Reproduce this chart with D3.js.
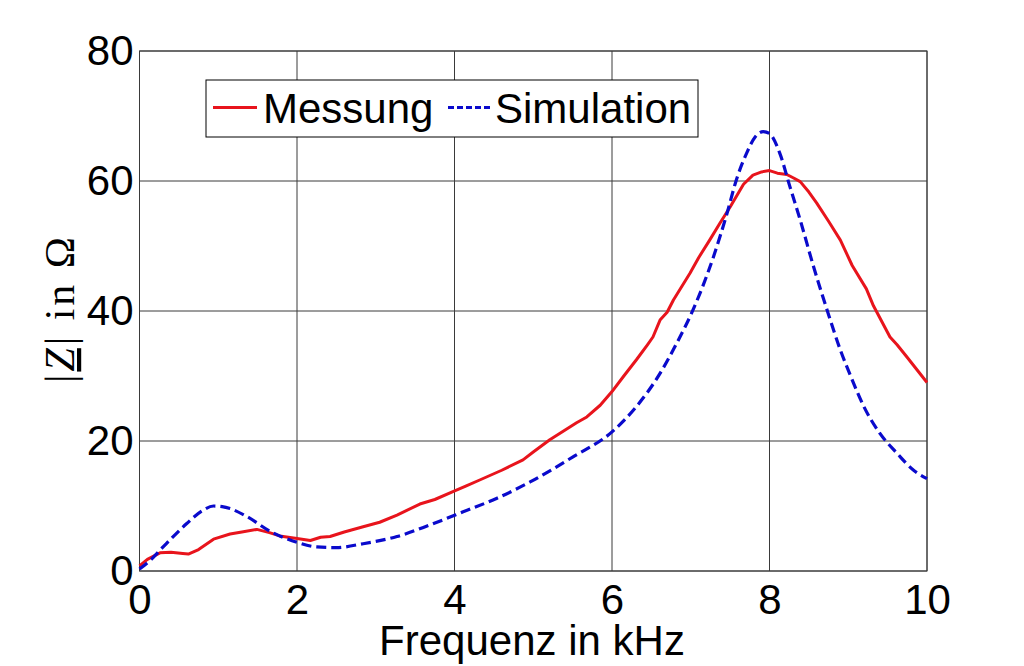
<!DOCTYPE html>
<html>
<head>
<meta charset="utf-8">
<script src="https://cdn.jsdelivr.net/npm/d3@7"></script>
<style>
html,body{margin:0;padding:0;background:#fff;}
svg{display:block;}
</style>
</head>
<body>
<svg id="chart" width="1024" height="666"></svg>
<script>
// ---- data ----
const xTicks = [0, 2, 4, 6, 8, 10];
const yTicks = [0, 20, 40, 60, 80];
const seriesNames = ["Messung", "Simulation"];

const messFreq = [0, 0.1, 0.26, 0.4, 0.55, 0.62, 0.75, 0.94, 1.15, 1.3, 1.49, 1.65, 1.78, 2.0, 2.17, 2.3, 2.42, 2.6, 2.84, 3.05, 3.27, 3.56, 3.75, 3.98, 4.15, 4.32, 4.6, 4.87, 5.0, 5.21, 5.34, 5.55, 5.68, 5.85, 6.0, 6.15, 6.31, 6.45, 6.52, 6.61, 6.7, 6.78, 6.99, 7.1, 7.24, 7.37, 7.5, 7.67, 7.79, 7.9, 8.0, 8.1, 8.22, 8.3, 8.39, 8.5, 8.6, 8.75, 8.9, 9.05, 9.23, 9.32, 9.53, 9.62, 9.74, 9.85, 10.0];
const messVal  = [0.8, 1.8, 2.8, 2.9, 2.7, 2.6, 3.3, 4.9, 5.7, 6.0, 6.4, 5.9, 5.4, 5.0, 4.7, 5.2, 5.3, 6.0, 6.8, 7.5, 8.6, 10.3, 11.0, 12.2, 13.1, 14.0, 15.5, 17.1, 18.3, 20.2, 21.2, 22.8, 23.7, 25.5, 27.6, 30.0, 32.5, 34.8, 36.0, 38.6, 39.8, 41.7, 45.8, 48.2, 50.9, 53.5, 56.0, 59.5, 60.9, 61.4, 61.6, 61.2, 61.0, 60.5, 59.9, 58.3, 56.6, 53.8, 50.9, 47.0, 43.4, 40.8, 36.0, 34.8, 33.0, 31.3, 29.0];

const simFreq = [0, 0.15, 0.3, 0.6, 0.8, 0.94, 1.05, 1.15, 1.36, 1.66, 2.0, 2.25, 2.5, 2.84, 3.27, 3.69, 4.11, 4.54, 4.96, 5.51, 6.0, 6.31, 6.61, 6.82, 7.03, 7.29, 7.46, 7.58, 7.71, 7.82, 7.92, 8.0, 8.13, 8.26, 8.39, 8.56, 8.73, 8.9, 9.03, 9.19, 9.4, 9.62, 9.83, 10.0];
const simVal  = [0.3, 1.8, 3.7, 7.3, 9.3, 10.0, 9.9, 9.6, 8.4, 6.1, 4.4, 3.7, 3.6, 4.2, 5.3, 7.1, 9.1, 11.2, 13.7, 17.6, 21.4, 25.3, 30.4, 35.0, 40.2, 48.4, 55.0, 60.2, 64.3, 66.8, 67.6, 67.3, 64.3, 59.1, 54.0, 46.8, 40.2, 34.0, 30.0, 25.5, 21.2, 18.1, 15.5, 14.2];

// ---- layout ----
const svg = d3.select("#chart");
const pLeft = 139.5, pRight = 927, pTop = 51, pBottom = 571;
const x = d3.scaleLinear().domain([0, 10]).range([pLeft, pRight]);
const y = d3.scaleLinear().domain([0, 80]).range([pBottom, pTop]);
const font = "'Liberation Sans', Arial, sans-serif";

// grid
const g = svg.append("g");
g.selectAll("line.vx").data(xTicks).enter().append("line")
  .attr("x1", d => x(d)).attr("x2", d => x(d))
  .attr("y1", pTop).attr("y2", pBottom)
  .attr("stroke", "#3a3a3a").attr("stroke-width", 1);
g.selectAll("line.hy").data(yTicks).enter().append("line")
  .attr("x1", pLeft).attr("x2", pRight)
  .attr("y1", d => y(d)).attr("y2", d => y(d))
  .attr("stroke", "#3a3a3a").attr("stroke-width", 1);
g.append("rect").attr("x", pLeft).attr("y", pTop)
  .attr("width", pRight - pLeft).attr("height", pBottom - pTop)
  .attr("fill", "none").attr("stroke", "#3a3a3a").attr("stroke-width", 1);

// axes via d3 (tick labels)
const xAxis = d3.axisBottom(x).tickValues(xTicks).tickSize(0).tickPadding(13).tickFormat(d3.format("d"));
const ax = svg.append("g").attr("transform", `translate(0,${pBottom})`).call(xAxis);
ax.select(".domain").remove();
ax.selectAll("text").attr("font-family", font).attr("font-size", 42).attr("fill", "#000");

const yAxis = d3.axisLeft(y).tickValues(yTicks).tickSize(0).tickPadding(6).tickFormat(d3.format("d"));
const ay = svg.append("g").attr("transform", `translate(${pLeft},0)`).call(yAxis);
ay.select(".domain").remove();
ay.selectAll("text").attr("font-family", font).attr("font-size", 42).attr("fill", "#000");

// lines
const mess = messFreq.map((f, i) => [f, messVal[i]]);
const sim = simFreq.map((f, i) => [f, simVal[i]]);
const lineLin = d3.line().x(d => x(d[0])).y(d => y(d[1]));
const lineSmooth = d3.line().x(d => x(d[0])).y(d => y(d[1])).curve(d3.curveMonotoneX);

svg.append("path").datum(mess).attr("d", lineLin)
  .attr("fill", "none").attr("stroke", "#e8141c").attr("stroke-width", 3)
  .attr("stroke-linejoin", "round");
svg.append("path").datum(sim).attr("d", lineSmooth)
  .attr("fill", "none").attr("stroke", "#0a0acc").attr("stroke-width", 3.2)
  .attr("stroke-dasharray", "10,5");

// x label
svg.append("text").attr("x", 532).attr("y", 655).attr("text-anchor", "middle")
  .attr("font-family", font).attr("font-size", 42).attr("fill", "#000")
  .text("Frequenz in kHz");

// y label (LaTeX style)
const yl = svg.append("text")
  .attr("transform", "translate(74,310) rotate(-90)")
  .attr("text-anchor", "middle")
  .attr("font-family", "'Liberation Serif', 'DejaVu Serif', serif")
  .attr("font-size", 42).attr("fill", "#000")
  .attr("textLength", 146).attr("lengthAdjust", "spacing");
yl.append("tspan").text("|");
yl.append("tspan").attr("font-style", "italic").attr("text-decoration", "underline").text("Z");
yl.append("tspan").text("| in Ω");

// legend
const leg = svg.append("g");
leg.append("rect").attr("x", 206).attr("y", 80).attr("width", 492).attr("height", 57)
  .attr("fill", "#fff").attr("stroke", "#000").attr("stroke-width", 1);
const legItems = [
  {name: seriesNames[0], x0: 213, x1: 257, tx: 263, color: "#e8141c", dash: null},
  {name: seriesNames[1], x0: 448, x1: 492, tx: 495, color: "#0a0acc", dash: "6,3"}
];
legItems.forEach(it => {
  leg.append("line").attr("x1", it.x0).attr("x2", it.x1).attr("y1", 107.5).attr("y2", 107.5)
    .attr("stroke", it.color).attr("stroke-width", 3)
    .attr("stroke-dasharray", it.dash);
  leg.append("text").attr("x", it.tx).attr("y", 123).attr("font-family", font)
    .attr("font-size", 42).attr("fill", "#000").text(it.name);
});
</script>
</body>
</html>
